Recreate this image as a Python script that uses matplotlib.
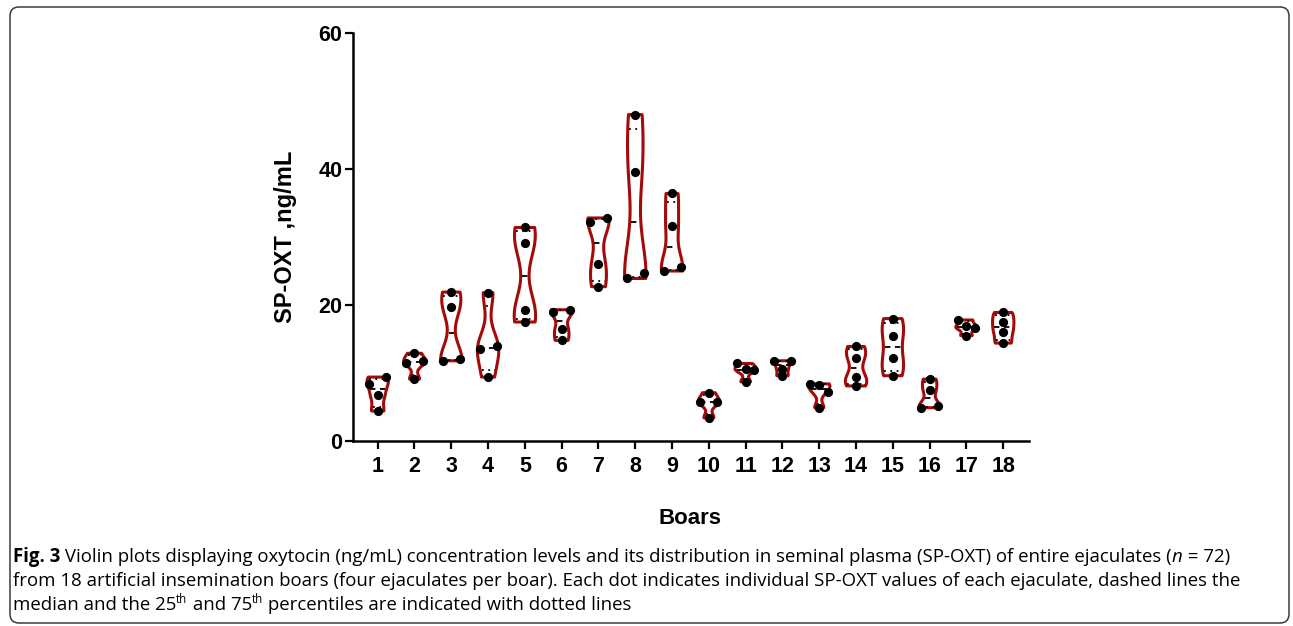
import numpy as np
import matplotlib
matplotlib.use('Agg')
import matplotlib.pyplot as plt
from matplotlib import cbook
from matplotlib.patches import FancyBboxPatch
from matplotlib.transforms import IdentityTransform

# SP-OXT (ng/mL), four ejaculates per boar
boars = [str(i) for i in range(1, 19)]
sp_oxt = [
    [9.4, 8.45, 6.7, 4.4],
    [12.9, 11.8, 11.4, 9.1],
    [21.9, 19.7, 12.0, 11.8],
    [21.8, 13.9, 13.6, 9.4],
    [31.4, 29.1, 19.3, 17.5],
    [19.3, 18.9, 16.5, 14.8],
    [32.8, 32.2, 26.1, 22.7],
    [48.0, 39.6, 24.7, 23.9],
    [36.4, 31.6, 25.6, 25.0],
    [7.1, 5.8, 5.7, 3.4],
    [11.4, 10.6, 10.4, 8.7],
    [11.8, 11.7, 10.65, 9.6],
    [8.4, 8.2, 7.2, 4.9],
    [13.9, 12.2, 9.4, 8.1],
    [18.0, 15.4, 12.2, 9.6],
    [9.1, 7.5, 5.1, 4.9],
    [17.8, 16.9, 16.6, 15.5],
    [18.9, 17.5, 16.1, 14.4],
]
yticks = [0, 20, 40, 60]

RED = '#a50a0a'
W = 1293
H = 626

plt.rcParams['font.family'] = ['Liberation Sans', 'DejaVu Sans']

fig = plt.figure(figsize=(W / 100, H / 100), dpi=100)
ax = fig.add_axes([353.3 / W, 1 - 441 / H, (1029 - 353.3) / W, (441 - 33) / H])

pos = np.arange(1, 19)


def kde(x, coords, factor=0.45):
    x = np.asarray(x)
    bw = factor * x.std(ddof=1)
    d = np.exp(-0.5 * ((coords[:, None] - x[None, :]) / bw) ** 2).sum(axis=1)
    return d / (len(x) * bw * np.sqrt(2 * np.pi))


stats = cbook.violin_stats(sp_oxt, kde, points=200)
width = 0.58
parts = ax.violin(stats, positions=pos, widths=width, showextrema=False,
                  showmeans=False, showmedians=False)
for b in parts['bodies']:
    b.set_facecolor('none')
    b.set_edgecolor(RED)
    b.set_linewidth(2.2)
    b.set_alpha(1)
    b.set_zorder(2)

# median (dashed) and quartiles (dotted), clipped to violin width
for x, st, v in zip(pos, stats, sp_oxt):
    q1, med, q3 = np.percentile(v, [25, 50, 75], method='weibull')
    for y, ls in [(med, (0, (3, 2.5))), (q1, (0, (1, 2.5))), (q3, (0, (1, 2.5)))]:
        hw = 0.5 * width * np.interp(y, st['coords'], st['vals']) / st['vals'].max()
        hw = max(hw - 0.04, 0.03)
        ax.plot([x - hw, x + hw], [y, y], color='black', lw=1.3, ls=ls, zorder=2.5)

# points, spread sideways when they sit close together
for x, v in zip(pos, sp_oxt):
    vals = sorted(v, reverse=True)
    groups = [[vals[0]]]
    for val in vals[1:]:
        if groups[-1][-1] - val < 1.0:
            groups[-1].append(val)
        else:
            groups.append([val])
    for g in groups:
        n = len(g)
        if n == 2:
            offs = np.array([0.23, -0.23])
        else:
            offs = (np.arange(n) - (n - 1) / 2) * 0.24
        ax.scatter(x + offs, g, s=44, color='black', zorder=3, linewidths=0)

ax.set_xlim(0.337, 18.70)
ax.set_ylim(0, 60)
ax.set_yticks(yticks)
ax.set_xticks(pos)
ax.set_xticklabels(boars)
for s in ['top', 'right']:
    ax.spines[s].set_visible(False)
for s in ['left', 'bottom']:
    ax.spines[s].set_linewidth(1.8)
ax.tick_params(width=1.6, length=6, labelsize=15.5, direction='out')
ax.tick_params(axis='y', pad=2)
ax.tick_params(axis='x', pad=5)
for lab in ax.get_xticklabels() + ax.get_yticklabels():
    lab.set_fontweight('bold')

ax.text(-0.101, 0.5, 'SP-OXT ,ng/mL', transform=ax.transAxes, rotation=90,
        ha='center', va='center', fontsize=17, fontweight='bold')
fig.text(690 / W, 1 - 519 / H, 'Boars', ha='center', va='center',
         fontsize=16, fontweight='bold')

# caption, drawn piece by piece
renderer = fig.canvas.get_renderer()
cap = ['Open Sans', 'DejaVu Sans']
csize = 13.4


def write(pieces, x0, ybase):
    x = x0
    for txt, kw in pieces:
        yb = ybase
        size = csize
        if kw.get('sup'):
            yb = ybase - 7
            size = csize * 0.62
        t = fig.text(x / W, 1 - yb / H, txt, ha='left', va='baseline',
                     family=cap, fontsize=size,
                     fontweight=kw.get('weight', 'normal'),
                     fontstyle=kw.get('style', 'normal'))
        x = t.get_window_extent(renderer).x1


write([('Fig. 3', {'weight': 'bold'}),
       (' Violin plots displaying oxytocin (ng/mL) concentration levels and its '
        'distribution in seminal plasma (SP-OXT) of entire ejaculates (', {}),
       ('n', {'style': 'italic'}), (' = 72)', {})], 13, 562)
write([('from 18 artificial insemination boars (four ejaculates per boar). Each dot '
        'indicates individual SP-OXT values of each ejaculate, dashed lines the', {})],
      13, 586)
write([('median and the 25', {}), ('th', {'sup': True}), (' and 75', {}),
       ('th', {'sup': True}), (' percentiles are indicated with dotted lines', {})],
      13, 610)

border = FancyBboxPatch((10, 3), 1279, 616, boxstyle='round,pad=0,rounding_size=9',
                        transform=IdentityTransform(), facecolor='none',
                        edgecolor='#3a3a3a', linewidth=1.1)
fig.patches.append(border)

fig.savefig('out.png', dpi=100)
